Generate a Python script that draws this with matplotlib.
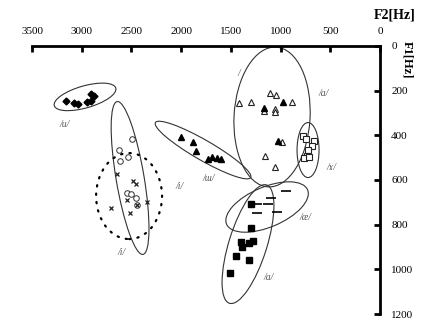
import matplotlib.pyplot as plt
from matplotlib.patches import Ellipse
from matplotlib.transforms import ScaledTranslation

plt.rcParams['font.family'] = ['Liberation Serif', 'DejaVu Serif']

# /u/ filled diamonds
u_f2 = [3158, 3077, 3037, 2947, 2906, 2906, 2876]
u_f1 = [246, 255, 260, 251, 246, 215, 224]

# open circles (solid /i/ ellipse)
circ_f2 = [2494, 2625, 2615, 2534, 2544, 2504, 2454, 2444]
circ_f1 = [416, 466, 515, 497, 658, 663, 681, 712]

# crosses (dotted /i/ ellipse)
x_f2 = [2645, 2484, 2454, 2544, 2705, 2514, 2343, 2444]
x_f1 = [573, 605, 618, 690, 725, 748, 699, 712]

# /ɯ/ filled triangles
tri_f2 = [2001, 1881, 1851, 1730, 1690, 1640, 1599]
tri_f1 = [407, 430, 470, 506, 497, 502, 506]

# big ellipse triangles
otri_f2 = [1106, 1046, 1418, 1297, 885, 1167, 1056, 1056, 986, 1157, 1056]
otri_f1 = [210, 219, 255, 251, 251, 291, 282, 296, 430, 493, 542]
ftri_f2 = [976, 1167, 1026]
ftri_f1 = [251, 278, 425]

# /ɤ/ open squares
osq_f2 = [774, 744, 664, 684, 724, 734, 764, 714]
osq_f1 = [403, 416, 425, 448, 466, 493, 502, 497]

# /æ/ dashes
dash_f2 = [945, 1096, 1237, 1126, 1237, 1036]
dash_f1 = [649, 681, 708, 708, 748, 743]

# /a/ filled squares
sq_f2 = [1297, 1297, 1398, 1388, 1317, 1277, 1448, 1317, 1509]
sq_f1 = [708, 815, 878, 900, 882, 873, 940, 958, 1017]

# ellipses: centre F2, centre F1, width px, height px, angle, style
ell_f2 = [2967, 2514, 2524, 1780, 1086, 724, 1136, 1328]
ell_f1 = [228, 591, 672, 466, 318, 466, 721, 887]
ell_w = [64, 155, 66, 110, 76, 22, 88, 124]
ell_h = [22, 28, 86, 20, 140, 55, 40, 38]
ell_ang = [16, 99.6, 0, -30, -3.3, 0, 23, 72.6]
ell_dot = [False, False, True, False, False, False, False, False]

labels = ['/u/', '/i/', '/ɯ/', '/i/', '/a/', '/ɤ/', '/æ/', '/a/', '/']
lab_f2 = [3170, 2020, 1725, 2600, 570, 490, 750, 1120, 1418]
lab_f1 = [350, 630, 595, 925, 215, 545, 770, 1035, 125]

fig = plt.figure(figsize=(4.45, 3.33), dpi=100)
ax = fig.add_axes([0.072, 0.057, 0.782, 0.805])
ax.set_xlim(3500, 0)
ax.set_ylim(1200, 0)

ax.plot(u_f2, u_f1, 'D', color='black', ms=3.5)
ax.plot(circ_f2, circ_f1, 'o', mfc='white', mec='#333333', ms=4, mew=0.7)
ax.plot(x_f2, x_f1, 'x', color='#222222', ms=3.5, mew=0.9)
ax.plot(tri_f2, tri_f1, '^', color='black', ms=4.5)
ax.plot(otri_f2, otri_f1, '^', mfc='white', mec='#222222', ms=4.5, mew=0.8)
ax.plot(ftri_f2, ftri_f1, '^', color='black', ms=4.5)
ax.plot(osq_f2, osq_f1, 's', mfc='white', mec='#222222', ms=3.8, mew=0.8)
ax.plot(dash_f2, dash_f1, '_', color='black', ms=7, mew=1.2)
ax.plot(sq_f2, sq_f1, 's', color='black', ms=4)

for cx, cy, w, h, a, dot in zip(ell_f2, ell_f1, ell_w, ell_h, ell_ang, ell_dot):
    tr = fig.dpi_scale_trans + ScaledTranslation(cx, cy, ax.transData)
    if dot:
        e = Ellipse((0, 0), w / 100, h / 100, angle=a, transform=tr, fill=False,
                    ec='black', lw=1.6, linestyle=(0, (0.6, 3.2)), capstyle='round')
    else:
        e = Ellipse((0, 0), w / 100, h / 100, angle=a, transform=tr, fill=False,
                    ec='#333333', lw=0.8)
    ax.add_patch(e)

for t, x, y in zip(labels, lab_f2, lab_f1):
    ax.text(x, y, t, fontsize=7, style='italic', color='#555555', ha='center', va='center')

for s in ['bottom', 'left']:
    ax.spines[s].set_visible(False)
for s in ['top', 'right']:
    ax.spines[s].set_linewidth(2)
ax.xaxis.tick_top()
ax.yaxis.tick_right()
ax.set_xticks([3500, 3000, 2500, 2000, 1500, 1000, 500, 0])
ax.set_yticks([0, 200, 400, 600, 800, 1000, 1200])
ax.tick_params(axis='x', direction='in', length=4, width=2, labelsize=8, pad=7)
ax.tick_params(axis='y', direction='in', length=4, width=2, labelsize=8, pad=8)

fig.text(0.888, 0.955, 'F2[Hz]', fontsize=10, fontweight='bold', ha='center', va='center')
fig.text(0.915, 0.82, 'F1[Hz]', fontsize=9, fontweight='bold', rotation=270,
         ha='center', va='center')

fig.savefig('out.png', dpi=100)
